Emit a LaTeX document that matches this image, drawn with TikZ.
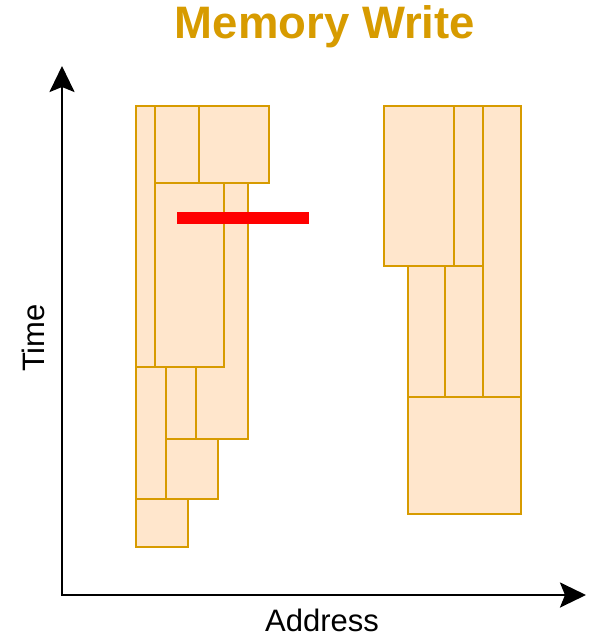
\documentclass[tikz,border=0pt]{standalone}
\usepackage{fontspec}
\setmainfont{Liberation Sans}
\usetikzlibrary{arrows.meta}
\definecolor{boxfill}{HTML}{FFE6CC}
\definecolor{boxline}{HTML}{D79B00}
\begin{document}
\begin{tikzpicture}[x=1pt,y=-1pt,
  blk/.style={fill=boxfill,draw=boxline,line width=2.6pt},
  axis/.style={draw=black,line width=2.6pt,{Stealth[length=26pt,width=25pt,inset=5pt]}-{Stealth[length=26pt,width=25pt,inset=5pt]}},
  wbar/.style={draw=red,line width=12pt}]
\useasboundingbox (0,0) rectangle (593,637);
% title
\node[anchor=base,text=boxline,font=\fontsize{45.5}{54}\selectfont\bfseries,inner sep=0] (title) at (325,38) {Memory Write};
% axes
\coordinate (origin) at (62,595);
\coordinate (ytip) at (62,66);
\coordinate (xtip) at (586,595);
\draw[axis] (ytip) -- (origin) -- (xtip);
\node[anchor=base,font=\fontsize{31}{37}\selectfont,inner sep=0] (xlabel) at (322,631) {Address};
\node[anchor=base,rotate=90,font=\fontsize{31}{37}\selectfont,inner sep=0] (ylabel) at (44,338) {Time};
% left group
\draw[blk] (196,183) rectangle (248,439);
\draw[blk] (136,106) rectangle (155,367);
\draw[blk] (155,106) rectangle (199,183);
\draw[blk] (199,106) rectangle (269,183);
\draw[blk] (155,183) rectangle (224,367);
\draw[blk] (136,367) rectangle (166,499);
\draw[blk] (166,367) rectangle (196,439);
\draw[blk] (166,439) rectangle (218,499);
\draw[blk] (136,499) rectangle (188,547);
% right group
\draw[blk] (384,106) rectangle (454,266);
\draw[blk] (454,106) rectangle (483,266);
\draw[blk] (483,106) rectangle (521,397);
\draw[blk] (408,266) rectangle (445,397);
\draw[blk] (445,266) rectangle (483,397);
\draw[blk] (408,397) rectangle (521,514);
% write marker
\coordinate (wa) at (177,218);
\coordinate (wb) at (309,218);
\draw[wbar] (wa) -- (wb);
\end{tikzpicture}
\end{document}
